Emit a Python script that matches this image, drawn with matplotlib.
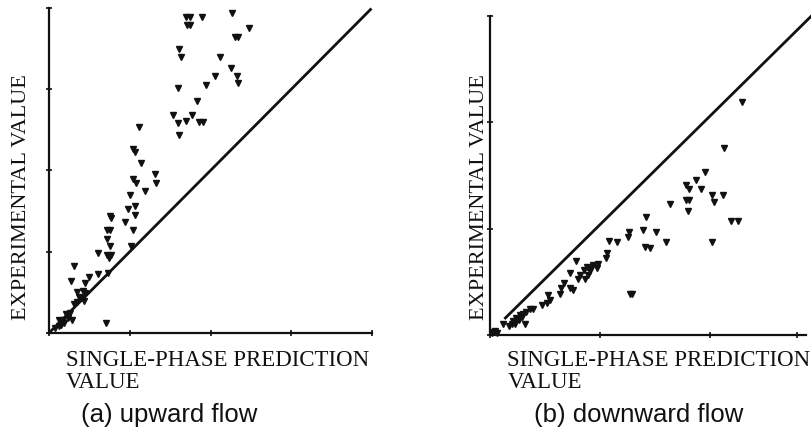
import matplotlib

matplotlib.use("Agg")
import matplotlib.pyplot as plt

INK = "#111111"
SERIF = ["Liberation Serif", "DejaVu Serif"]
SANS = ["Liberation Sans", "DejaVu Sans"]

# (a) upward flow: single-phase prediction vs experimental value
UP_X = [
    1.70, 1.74, 1.90, 1.71, 1.75, 2.27, 2.48, 2.30, 2.34, 1.61, 1.63, 2.12,
    2.05, 2.25, 2.33, 2.34, 1.94, 1.60, 1.83, 1.53, 1.77, 1.60, 1.69, 1.86,
    1.91, 1.61, 1.12, 1.04, 1.06, 1.14, 1.31, 1.32, 1.04, 1.08, 1.19, 1.00,
    0.98, 1.07, 1.06, 0.94, 1.04, 0.75, 0.77, 0.72, 0.76, 0.72, 0.76, 0.72,
    0.77, 0.74, 0.61, 1.02, 0.31, 0.27, 0.50, 0.45, 0.61, 0.73, 0.35, 0.42,
    0.45, 0.40, 0.43, 0.35, 0.31, 0.26, 0.21, 0.24, 0.17, 0.19, 0.28, 0.13,
    0.15, 0.71, 0.37, 0.08, 0.12,
]
UP_Y = [
    3.89, 3.89, 3.89, 3.79, 3.79, 3.94, 3.75, 3.64, 3.64, 3.49, 3.39, 3.40,
    3.16, 3.26, 3.16, 3.07, 3.05, 3.01, 2.86, 2.68, 2.68, 2.58, 2.61, 2.59,
    2.59, 2.44, 2.53, 2.26, 2.23, 2.09, 1.95, 1.85, 1.89, 1.84, 1.75, 1.70,
    1.52, 1.56, 1.45, 1.36, 1.27, 1.44, 1.41, 1.27, 1.27, 1.16, 1.07, 0.96,
    0.96, 0.92, 0.98, 1.07, 0.83, 0.64, 0.69, 0.62, 0.73, 0.74, 0.51, 0.52,
    0.49, 0.43, 0.39, 0.38, 0.36, 0.25, 0.23, 0.18, 0.16, 0.12, 0.16, 0.16,
    0.10, 0.12, 0.44, 0.06, 0.08,
]

# (b) downward flow
DOWN_X = [
    2.29, 2.13, 1.95, 1.87, 1.78, 1.81, 1.92, 1.78, 1.81, 1.80, 1.64, 2.02,
    2.04, 2.12, 2.19, 2.25, 2.02, 1.42, 1.39, 1.41, 1.51, 1.60, 1.45, 1.26,
    1.25, 1.15, 1.08, 1.27, 1.29, 1.06, 1.05, 0.78, 0.98, 0.94, 0.91, 0.88,
    0.85, 0.91, 0.97, 0.89, 0.86, 0.82, 0.80, 0.73, 0.75, 0.73, 0.67, 0.65,
    0.64, 0.53, 0.55, 0.52, 0.47, 0.39, 0.36, 0.33, 0.30, 0.27, 0.24, 0.21,
    0.20, 0.17, 0.12, 0.32, 0.26, 0.23, 0.29, 0.03, 0.06, 0.02, 0.05,
]
DOWN_Y = [
    2.19, 1.76, 1.53, 1.46, 1.41, 1.37, 1.37, 1.27, 1.27, 1.17, 1.23, 1.32,
    1.25, 1.32, 1.07, 1.07, 0.87, 1.11, 0.99, 0.83, 0.97, 0.87, 0.82, 0.97,
    0.92, 0.87, 0.88, 0.39, 0.39, 0.77, 0.72, 0.70, 0.67, 0.66, 0.63, 0.64,
    0.61, 0.60, 0.63, 0.56, 0.53, 0.56, 0.53, 0.58, 0.42, 0.44, 0.49, 0.44,
    0.39, 0.38, 0.33, 0.30, 0.28, 0.24, 0.24, 0.22, 0.20, 0.19, 0.16, 0.13,
    0.10, 0.08, 0.10, 0.10, 0.14, 0.10, 0.17, 0.03, 0.02, 0.02, 0.04,
]

# reference (agreement) lines, as drawn in each panel
UP_LINE_X, UP_LINE_Y = [0, 3.98], [0, 3.98]
DOWN_LINE_X, DOWN_LINE_Y = [0.14, 2.95], [0.16, 3.03]

UP_TICKS = [0, 1, 2, 3, 4]
DOWN_XTICKS = [0, 1, 2, 2.79]
DOWN_YTICKS = [0, 1, 2, 3]

Y_LABEL = "EXPERIMENTAL VALUE"
X_LABEL = "SINGLE-PHASE PREDICTION\nVALUE"
CAPTIONS = ["(a) upward flow", "(b) downward flow"]


def _style_axes(ax, xticks, yticks, xlim, ylim):
    ax.set_xlim(*xlim)
    ax.set_ylim(*ylim)
    ax.set_xticks(xticks)
    ax.set_yticks(yticks)
    ax.set_xticklabels([])
    ax.set_yticklabels([])
    ax.tick_params(direction="inout", length=4, width=1.2, colors=INK)
    for side in ("top", "right"):
        ax.spines[side].set_visible(False)
    for side in ("left", "bottom"):
        ax.spines[side].set_color(INK)
        ax.spines[side].set_linewidth(1.6)
    ax.patch.set_alpha(0)


fig = plt.figure(figsize=(8.12, 4.37), dpi=100)

ax_up = fig.add_axes([0.0603, 0.238, 0.398, 0.744])
_style_axes(ax_up, UP_TICKS, UP_TICKS, (0, 4), (0, 4))
ax_up.plot(UP_LINE_X, UP_LINE_Y, color=INK, linewidth=2.0, clip_on=False)
ax_up.plot(UP_X, UP_Y, linestyle="none", marker="v", markersize=5,
           color=INK, clip_on=False)

ax_down = fig.add_axes([0.6034, 0.2334, 0.389, 0.730])
_style_axes(ax_down, DOWN_XTICKS, DOWN_YTICKS, (0, 2.87), (0, 3.0))
ax_down.plot(DOWN_LINE_X, DOWN_LINE_Y, color=INK, linewidth=2.0, clip_on=False)
ax_down.plot(DOWN_X, DOWN_Y, linestyle="none", marker="v", markersize=5,
             color=INK, clip_on=False)

for x_ylab, x_xlab, x_cap, caption in zip(
    (0.027, 0.590), (0.081, 0.625), (0.0998, 0.658), CAPTIONS
):
    fig.text(x_ylab, 0.549, Y_LABEL, rotation=90, ha="center", va="center",
             family=SERIF, fontsize=16, color=INK)
    fig.text(x_xlab, 1 - 350 / 437, X_LABEL, ha="left", va="top",
             family=SERIF, fontsize=16.5, color=INK, linespacing=1.08)
    fig.text(x_cap, 1 - 415 / 437, caption, ha="left", va="center",
             family=SANS, fontsize=18.5, color=INK)

fig.savefig("out.png", dpi=100, facecolor="white")
plt.close(fig)
